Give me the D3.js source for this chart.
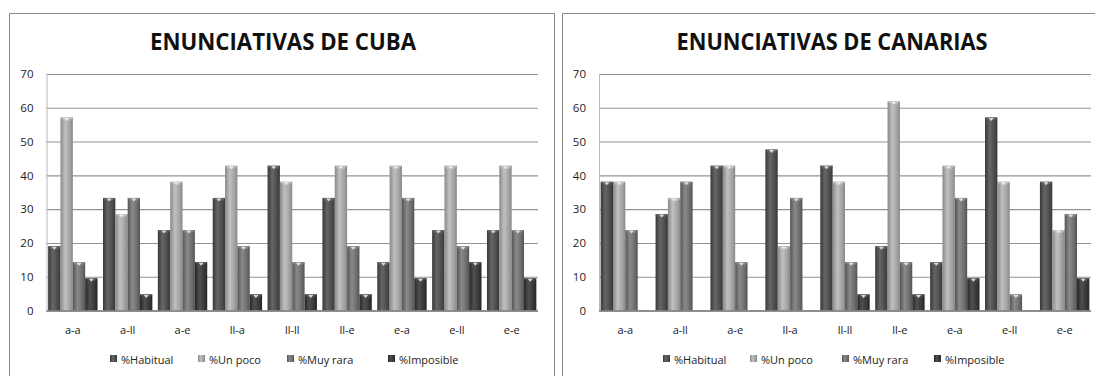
<!DOCTYPE html>
<html>
<head>
<meta charset="utf-8">
<script src="https://cdn.jsdelivr.net/npm/d3@7"></script>
<style>
  html, body { margin: 0; padding: 0; background: #fff; }
  svg { display: block; }
</style>
</head>
<body>
<svg id="chart" width="1095" height="376"></svg>
<script>
// Pair categories (consonant contexts)
const categories = ["a-a", "a-ll", "a-e", "ll-a", "ll-ll", "ll-e", "e-a", "e-ll", "e-e"];
const seriesNames = ["%Habitual", "%Un poco", "%Muy rara", "%Imposible"];
const yTicks = [0, 10, 20, 30, 40, 50, 60, 70];

// Cuba: percentages per category, one array per series
const cubaHabitual   = [19.05, 33.33, 23.81, 33.33, 42.86, 33.33, 14.29, 23.81, 23.81];
const cubaUnPoco     = [57.14, 28.57, 38.10, 42.86, 38.10, 42.86, 42.86, 42.86, 42.86];
const cubaMuyRara    = [14.29, 33.33, 23.81, 19.05, 14.29, 19.05, 33.33, 19.05, 23.81];
const cubaImposible  = [9.52, 4.76, 14.29, 4.76, 4.76, 4.76, 9.52, 14.29, 9.52];

// Canarias
const canHabitual    = [38.10, 28.57, 42.86, 47.62, 42.86, 19.05, 14.29, 57.14, 38.10];
const canUnPoco      = [38.10, 33.33, 42.86, 19.05, 38.10, 61.90, 42.86, 38.10, 23.81];
const canMuyRara     = [23.81, 38.10, 14.29, 33.33, 14.29, 14.29, 33.33, 4.76, 28.57];
const canImposible   = [0, 0, 0, 0, 4.76, 4.76, 9.52, 0, 9.52];

const panels = [
  { title: "ENUNCIATIVAS DE CUBA", series: [cubaHabitual, cubaUnPoco, cubaMuyRara, cubaImposible],
    frame: [9, 554], plot: [46.5, 538], titleX: 283, titleLen: 266,
    legendX: [110, 198, 287, 388] },
  { title: "ENUNCIATIVAS DE CANARIAS", series: [canHabitual, canUnPoco, canMuyRara, canImposible],
    frame: [562, 1100], plot: [599, 1091], titleX: 832, titleLen: 311,
    legendX: [663, 750, 842, 934] }
];

// Shading per series: [edge, highlight, mid]
const shades = [
  ["#383838", "#666666", "#4c4c4c"],
  ["#888888", "#c0c0c0", "#a4a4a4"],
  ["#545454", "#8a8a8a", "#6e6e6e"],
  ["#262626", "#505050", "#383838"]
];

const svg = d3.select("#chart");
const defs = svg.append("defs");
shades.forEach((s, i) => {
  const g = defs.append("linearGradient").attr("id", "bar" + i)
    .attr("x1", "0%").attr("x2", "100%").attr("y1", "0%").attr("y2", "0%");
  g.append("stop").attr("offset", "0%").attr("stop-color", s[0]);
  g.append("stop").attr("offset", "38%").attr("stop-color", s[1]);
  g.append("stop").attr("offset", "75%").attr("stop-color", s[2]);
  g.append("stop").attr("offset", "100%").attr("stop-color", s[0]);
});

const plotTop = 74, plotBottom = 310.5;
const y = d3.scaleLinear().domain([0, 70]).range([plotBottom, plotTop]);
const font = "'Open Sans', 'DejaVu Sans', sans-serif";

panels.forEach(p => {
  const g = svg.append("g");

  // frame
  g.append("path")
    .attr("d", `M${p.frame[0] + 0.5},376 V13.5 H${p.frame[1] + 0.5} V376`)
    .attr("fill", "none").attr("stroke", "#8a8a8a").attr("stroke-width", 1);

  // title
  g.append("text")
    .attr("x", p.titleX).attr("y", 50)
    .attr("text-anchor", "middle")
    .attr("font-family", font).attr("font-weight", "bold")
    .attr("font-size", 23).attr("fill", "#111")
    .attr("textLength", p.titleLen).attr("lengthAdjust", "spacingAndGlyphs")
    .text(p.title);

  const x0 = d3.scaleBand().domain(categories).range(p.plot)
    .paddingInner(0.1).paddingOuter(0.03);
  const x1 = d3.scaleBand().domain(d3.range(4)).range([0, x0.bandwidth()]).padding(0);

  // gridlines and y labels
  const yAxis = d3.axisLeft(y).tickValues(yTicks).tickSize(-(p.plot[1] - p.plot[0])).tickPadding(13);
  const ax = g.append("g").attr("transform", `translate(${p.plot[0]},0)`).call(yAxis);
  ax.select(".domain").remove();
  ax.selectAll(".tick line").attr("stroke", "#939393").attr("stroke-width", 1.1)
    .attr("x1", 0);
  ax.selectAll(".tick text").attr("font-family", font).attr("font-size", 11.5).attr("fill", "#222");

  // plot-area left edge
  g.append("line").attr("x1", p.plot[0] + 0.5).attr("x2", p.plot[0] + 0.5)
    .attr("y1", plotTop).attr("y2", plotBottom).attr("stroke", "#b8b8b8");

  // bars
  const rows = categories.map((c, ci) => ({ c, vals: p.series.map(s => s[ci]) }));
  const grp = g.selectAll(".cat").data(rows).join("g")
    .attr("transform", d => `translate(${x0(d.c)},0)`);
  const bars = grp.selectAll("g.bar")
    .data(d => d.vals.map((v, si) => ({ v, si })).filter(d => d.v > 0))
    .join("g").attr("class", "bar");
  bars.append("rect")
    .attr("x", d => x1(d.si)).attr("width", x1.bandwidth())
    .attr("y", d => y(d.v)).attr("height", d => y(0) - y(d.v))
    .attr("fill", d => `url(#bar${d.si})`);
  // lighter cap at the top of each column
  bars.append("path")
    .attr("d", d => {
      const xl = x1(d.si), w = x1.bandwidth(), yt = y(d.v);
      return `M${xl},${yt} H${xl + w} L${xl + w * 0.78},${yt + 3} H${xl + w * 0.22} Z`;
    })
    .attr("fill", d => shades[d.si][1]).attr("opacity", 0.9);
  bars.append("path")
    .attr("d", d => {
      const xl = x1(d.si), w = x1.bandwidth(), yt = y(d.v);
      return `M${xl + w * 0.3},${yt + 0.5} H${xl + w * 0.7} L${xl + w * 0.5},${yt + 3.5} Z`;
    })
    .attr("fill", "#f2f2f2").attr("opacity", 0.85);

  // baseline
  g.append("line").attr("x1", p.plot[0]).attr("x2", p.plot[1])
    .attr("y1", plotBottom + 0.5).attr("y2", plotBottom + 0.5)
    .attr("stroke", "#7a7a7a").attr("stroke-width", 1.3);

  // category labels
  g.selectAll(".clab").data(categories).join("text")
    .attr("x", d => x0(d) + x0.bandwidth() / 2).attr("y", 334)
    .attr("text-anchor", "middle")
    .attr("font-family", font).attr("font-size", 11).attr("fill", "#222")
    .text(d => d);

  // legend
  const lg = g.selectAll(".leg").data(seriesNames).join("g")
    .attr("transform", (d, i) => `translate(${p.legendX[i]},0)`);
  lg.append("rect").attr("x", 0).attr("y", 355).attr("width", 7).attr("height", 7)
    .attr("fill", (d, i) => `url(#bar${i})`);
  lg.append("text").attr("x", 11).attr("y", 363.5)
    .attr("font-family", font).attr("font-size", 11).attr("fill", "#222")
    .text(d => d);
});
</script>
</body>
</html>
